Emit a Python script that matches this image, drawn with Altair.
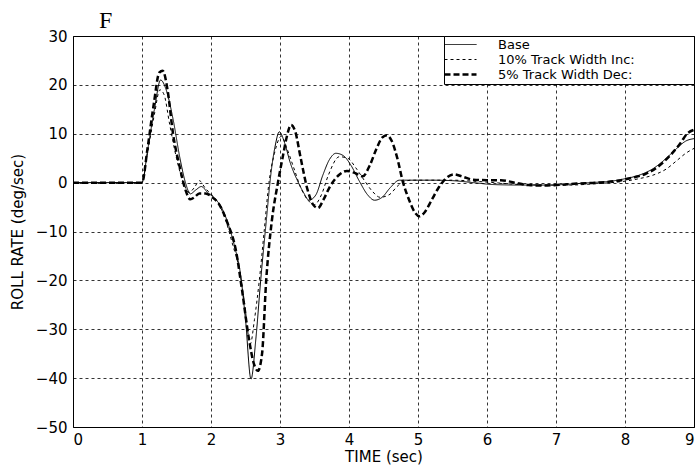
import altair as alt
import pandas as pd

series_names = ["Base", "10% Track Width Inc:", "5% Track Width Dec:"]
panel_label = ["F"]

base_t = [0, 1.0, 1.08, 1.18, 1.27, 1.35, 1.45, 1.55, 1.63, 1.70, 1.78, 1.86, 1.95, 2.05,
          2.15, 2.25, 2.35, 2.42, 2.50, 2.58, 2.65, 2.72, 2.80, 2.87, 2.93, 2.99, 3.07,
          3.15, 3.25, 3.34, 3.42, 3.52, 3.62, 3.72, 3.81, 3.92, 4.03, 4.15, 4.27, 4.37,
          4.48, 4.60, 4.73, 4.90, 5.2, 5.5, 5.8, 6.1, 6.5, 6.9, 7.2, 7.5, 7.8, 8.0, 8.2,
          8.4, 8.6, 8.75, 8.88, 9.0]
base_v = [0, 0, 6.5, 15, 21, 19, 13, 5, 0, -2.3, -1.5, -0.8, -2.0, -3.2,
          -5.0, -8.5, -13.5, -18, -28, -40.2, -32, -20, -8, 2, 7.5, 10.4, 8,
          4, 0.5, -2.0, -3.6, -2.5, 1.5, 4.8, 6.0, 5.5, 3.5, 0.3, -2.5, -3.6,
          -3.0, -1.0, 0.5, 0.5, 0.5, 0.4, 0, -0.4, -0.5, -0.5, -0.3, 0, 0.3, 0.8, 1.5,
          2.8, 5, 7, 8.5, 9]

inc_t = [0, 1.0, 1.08, 1.18, 1.26, 1.32, 1.40, 1.50, 1.60, 1.68, 1.76, 1.83, 1.92, 2.02,
         2.12, 2.22, 2.32, 2.40, 2.48, 2.57, 2.63, 2.70, 2.77, 2.84, 2.92, 3.02, 3.10,
         3.20, 3.30, 3.40, 3.50, 3.60, 3.70, 3.86, 3.98, 4.10, 4.22, 4.34, 4.45, 4.58,
         4.72, 4.90, 5.2, 5.5, 5.8, 6.1, 6.5, 6.9, 7.2, 7.5, 7.8, 8.0, 8.2, 8.4, 8.6,
         8.75, 8.88, 9.0]
inc_v = [0, 0, 6, 14, 19, 18, 12, 5, 0, -2, -1, 0.4, -1.2, -2.6,
         -4.5, -8, -13, -17, -24, -33, -28, -20, -10, 0, 6, 9.5, 7,
         3, -1, -3.5, -4.5, -2.5, 1.5, 5.3, 5, 3, 0.5, -1.8, -3, -2.5,
         -0.5, 0.5, 0.5, 0.5, 0.3, 0, -0.4, -0.5, -0.5, -0.3, 0, 0.3, 0.8, 1.5, 2.8,
         4.5, 6, 7]

dec_t = [0, 1.0, 1.08, 1.17, 1.25, 1.30, 1.37, 1.45, 1.55, 1.63, 1.70, 1.76, 1.83, 1.92,
         2.02, 2.12, 2.24, 2.36, 2.45, 2.55, 2.62, 2.68, 2.74, 2.80, 2.88, 2.97, 3.05,
         3.10, 3.16, 3.22, 3.30, 3.40, 3.48, 3.55, 3.63, 3.72, 3.85, 3.97, 4.08, 4.20,
         4.30, 4.40, 4.48, 4.55, 4.62, 4.70, 4.78, 4.87, 4.95, 5.02, 5.10, 5.20, 5.30,
         5.40, 5.52, 5.65, 5.80, 6.0, 6.2, 6.4, 6.6, 6.8, 7.0, 7.3, 7.6, 7.9, 8.1, 8.3,
         8.5, 8.65, 8.8, 8.9, 9.0]
dec_v = [0, 0, 7, 16, 22.5, 22.9, 19, 10, 3, -1.5, -3.4, -3.0, -2.2, -2.2,
         -3.0, -4.5, -8.3, -13.8, -22, -32, -37, -38.5, -35, -20, -8, 0, 6,
         9.5, 11.8, 10.5, 5, -1.5, -4.5, -5.2, -3.5, -0.9, 1.5, 2.4, 2.0, 1.3,
         3.5, 7, 9.2, 9.7, 8.5, 5, 0.2, -3.5, -6, -6.9, -6, -3.5, -1,
         0.8, 1.7, 1.2, 0.6, 0.5, 0.5, 0, -0.5, -0.6, -0.5, -0.2, 0, 0.4, 1.0, 1.8,
         3.5, 5.5, 8, 10, 10.8]

x_ticks = list(range(0, 10))
y_ticks = list(range(-50, 31, 10))

rows = []
for name, ts, vs in zip(series_names, [base_t, inc_t, dec_t], [base_v, inc_v, dec_v]):
    for i, (t, v) in enumerate(zip(ts, vs)):
        rows.append({"series": name, "t": t, "v": v, "order": i})
df = pd.DataFrame(rows)

thick_name = series_names[2]
lead = "\u2800" * 2
pad = "\u2800" * 6

legend = alt.Legend(
    title=None, orient="top-right", offset=0,
    fillColor="white", strokeColor="black", padding=2, rowPadding=1,
    symbolType="stroke", symbolSize=1024, symbolStrokeColor="black",
    symbolStrokeWidth={"expr": "datum.value === '" + thick_name + "' ? 2.5 : 1"},
    symbolOffset=8, labelOffset=12,
    labelFont="DejaVu Sans", labelFontSize=13, labelColor="black", labelLimit=400,
    labelExpr="'" + lead + "' + datum.label + '" + pad + "'",
)

lines = alt.Chart(df).mark_line(
    interpolate="monotone", color="black", strokeCap="butt", clip=True
).encode(
    x=alt.X("t:Q", scale=alt.Scale(domain=[0, 9], nice=False),
            axis=alt.Axis(values=x_ticks, title="TIME (sec)", labelPadding=5,
                          titlePadding=2, format="d")),
    y=alt.Y("v:Q", scale=alt.Scale(domain=[-50, 30], nice=False),
            axis=alt.Axis(values=y_ticks, title="ROLL RATE (deg/sec)", labelPadding=6,
                          titlePadding=10, format="d")),
    strokeDash=alt.StrokeDash("series:N",
                              scale=alt.Scale(domain=series_names, range=[[1, 0], [3, 3], [6, 3]]),
                              legend=legend),
    strokeWidth=alt.when(alt.datum.series == thick_name).then(alt.value(2.5)).otherwise(alt.value(1)),
    order="order:Q",
)

label = alt.Chart(pd.DataFrame({"label": panel_label})).mark_text(
    font="Liberation Serif", fontSize=24, color="black", align="left",
    baseline="alphabetic", clip=False
).encode(
    text="label:N", x=alt.value(26), y=alt.value(-8)
)

chart = alt.layer(lines, label).properties(
    width=621, height=391,
    background="white",
    autosize=alt.AutoSizeParams(type="none"),
    padding={"left": 73, "top": 36, "right": 2, "bottom": 42},
).configure_axis(
    grid=True, gridColor="black", gridDash=[3, 3], gridWidth=0.8, gridOpacity=1,
    domain=False, ticks=False,
    labelFont="DejaVu Sans", labelFontSize=15, labelColor="black",
    titleFont="DejaVu Sans", titleFontSize=15, titleColor="black", titleFontWeight="normal",
).configure_view(
    stroke="black", strokeWidth=1
)

chart.save("out.html", embed_options={"renderer": "svg", "actions": False})
